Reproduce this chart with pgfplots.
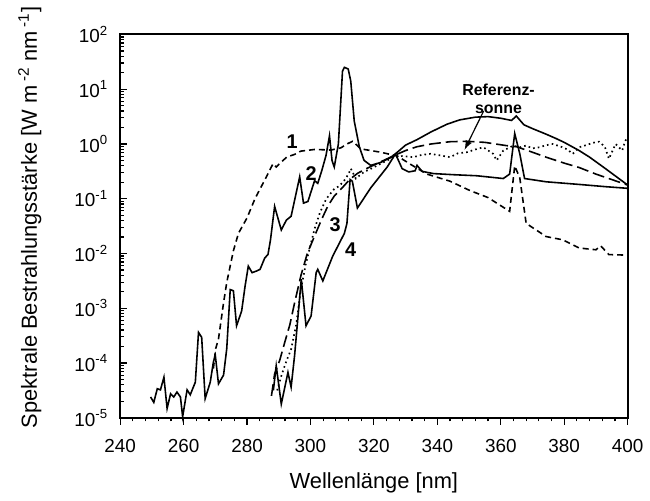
\documentclass[border=0pt]{standalone}
\usepackage{pgfplots}
\pgfplotsset{compat=1.18}
\usepackage{fontspec}
\setmainfont{Liberation Sans}

% spectra, wavelength [nm] vs. spectral irradiance [W m^-2 nm^-1]
\pgfplotstableread{
x y
269.4 7.94e-5
270.1 1.82e-4
271.0 2.75e-4
272.6 1.26e-3
273.6 2.95e-3
275.7 1.12e-2
277.3 2.34e-2
280.0 4.47e-2
282.5 0.100
286.1 0.251
288.2 0.437
289.2 0.380
290.8 0.468
292.5 0.575
295.0 0.646
297.0 0.741
301.3 0.794
306.5 0.776
309.6 0.851
311.5 1.00
313.3 1.12
315.9 0.813
322.1 0.708
327.4 0.603
331.5 0.427
336.7 0.282
344.0 0.209
350.3 0.141
356.0 0.105
362.8 0.0589
364.4 0.398
366.0 0.240
368.0 0.0355
374.3 0.0204
379.5 0.0178
384.7 0.0126
390.0 0.0117
391.5 0.0138
394.1 0.00955
400.0 0.00933
}\curveA

\pgfplotstableread{
x y
249.6 2.40e-5
250.6 1.91e-5
251.7 3.39e-5
252.7 3.24e-5
253.8 5.50e-5
254.8 1.48e-5
255.9 2.75e-5
256.9 2.40e-5
257.9 2.95e-5
259.0 2.40e-5
259.7 1.05e-5
261.1 3.24e-5
262.1 2.63e-5
263.7 4.47e-5
264.7 3.63e-4
265.7 2.95e-4
266.8 2.24e-5
268.4 4.47e-5
269.4 1.05e-4
270.0 1.38e-4
271.0 4.17e-5
272.6 6.03e-5
273.6 1.82e-4
274.7 2.19e-3
275.7 2.09e-3
276.7 4.79e-4
278.3 8.91e-4
279.4 2.57e-3
280.4 5.89e-3
281.6 4.47e-3
283.0 4.79e-3
284.1 5.13e-3
285.6 8.32e-3
286.6 9.55e-3
287.4 1.78e-2
288.7 7.24e-2
290.8 2.69e-2
292.4 4.07e-2
293.9 4.79e-2
296.6 0.251
297.8 0.0832
299.2 0.0891
301.3 0.214
302.3 0.191
303.6 0.331
304.9 0.617
306.0 1.41
306.8 0.501
307.5 0.380
308.8 1.00
310.1 21.4
310.7 25.1
311.9 23.4
312.7 14.1
313.8 2.63
315.4 0.891
316.9 0.501
319.0 0.407
322.0 0.457
325.2 0.562
326.8 0.661
328.9 0.355
331.0 0.309
333.0 0.324
333.6 0.407
335.2 0.316
338.8 0.288
345.0 0.275
352.4 0.263
360.8 0.234
362.8 0.282
364.4 1.55
366.0 0.661
367.5 0.234
374.3 0.204
385.0 0.182
393.1 0.166
400.0 0.155
}\curveB

\pgfplotstableread{
x y
289.5 3.16e-5
291.0 6.31e-5
292.5 1.12e-4
293.9 1.78e-4
295.5 5.01e-4
297.0 2.24e-3
298.5 6.31e-3
300.0 1.41e-2
301.3 2.82e-2
303.0 5.62e-2
305.0 0.100
307.5 0.151
309.0 0.170
310.5 0.209
312.0 0.282
312.7 0.355
314.3 0.234
316.9 0.309
319.5 0.363
322.1 0.437
326.3 0.575
329.0 0.603
332.5 0.575
335.0 0.631
337.8 0.661
341.0 0.617
344.0 0.575
346.5 0.676
349.3 0.708
352.0 0.794
354.5 0.871
357.6 0.661
358.7 0.501
360.8 0.759
363.9 0.933
366.0 0.871
368.0 0.933
370.0 0.832
372.2 0.871
374.5 0.955
376.4 1.00
379.0 0.891
381.0 0.794
382.7 0.661
384.7 0.871
387.0 0.955
389.0 1.05
391.0 1.10
392.8 0.891
394.1 0.537
396.2 1.00
398.3 0.759
399.2 1.12
400.0 1.35
}\curveC

\pgfplotstableread{
x y
288.3 3.16e-5
289.2 8.91e-5
290.8 1.78e-5
292.9 6.76e-5
293.9 3.63e-5
295.0 1.38e-4
297.1 3.39e-3
298.6 4.79e-4
300.2 7.24e-4
301.8 4.47e-3
302.3 5.13e-3
303.9 3.16e-3
307.0 8.91e-3
310.7 2.34e-2
311.5 3.55e-2
312.5 0.224
313.2 0.209
314.8 0.0676
319.0 0.158
324.2 0.380
326.8 0.661
330.0 0.955
333.6 1.20
338.0 1.66
343.0 2.29
347.0 2.75
352.0 3.09
356.0 3.16
360.0 2.95
363.4 2.69
364.9 3.24
367.3 2.24
370.0 1.91
374.3 1.51
377.4 1.26
380.0 1.07
384.7 0.759
388.0 0.575
393.0 0.355
400.0 0.178
}\curveD

\pgfplotstableread{
x y
287.7 2.51e-5
288.7 6.31e-5
290.3 1.12e-4
292.0 2.51e-4
293.5 5.01e-4
295.0 1.26e-3
297.0 3.98e-3
299.0 1.00e-2
301.3 2.09e-2
303.5 4.17e-2
305.5 7.41e-2
307.5 0.112
310.0 0.158
312.5 0.229
315.0 0.295
318.0 0.363
322.0 0.468
326.8 0.631
330.0 0.759
333.6 0.891
338.0 1.00
344.0 1.10
349.3 1.12
355.0 1.07
361.8 0.933
365.0 0.891
369.0 0.741
374.3 0.575
380.0 0.447
384.7 0.372
390.0 0.282
395.0 0.224
400.0 0.178
}\refsun

\begin{document}
\begin{tikzpicture}
\begin{axis}[
    scale only axis,
    width=255.5pt, height=193pt,
    xmin=240, xmax=400,
    ymode=log, ymin=1e-5, ymax=1e2,
    xtick={240,260,...,400}, minor x tick num=4,
    ytick={1e-5,1e-4,1e-3,1e-2,1e-1,1,10,100},
    yticklabels={10\textsuperscript{-5},10\textsuperscript{-4},10\textsuperscript{-3},10\textsuperscript{-2},
                 10\textsuperscript{-1},10\textsuperscript{0},10\textsuperscript{1},10\textsuperscript{2}},
    tick pos=left,
    xtick align=outside, ytick align=inside,
    major tick length=3.5pt, minor tick length=1.8pt,
    axis line style={line width=1pt},
    every tick/.style={black, line width=0.6pt},
    /pgf/number format/assume math mode=true,
    /pgf/number format/1000 sep={},
    ticklabel style={font=\fontsize{9.5}{11}\selectfont},
    xticklabel style={yshift=-4pt},
    yticklabel style={xshift=-2.5pt},
    xlabel={Wellenlänge [nm]},
    ylabel={Spektrale Bestrahlungsstärke [W m\,\textsuperscript{-2} nm\,\textsuperscript{-1}]},
    label style={font=\fontsize{11}{13}\selectfont},
    xlabel style={at={(rel axis cs:0.5,-0.171)}, anchor=center},
    ylabel style={at={(rel axis cs:-0.178,0.523)}, anchor=center},
    clip=false,
]

\addplot[black, line width=0.8pt, dash pattern=on 3pt off 2pt] table {\curveA};
\addplot[black, line width=0.8pt] table {\curveB};
\addplot[black, line width=0.85pt, dash pattern=on 0.8pt off 1.6pt] table {\curveC};
\addplot[black, line width=0.8pt] table {\curveD};
\addplot[black, line width=0.8pt, dash pattern=on 6pt off 2.5pt] table {\refsun};

\node[font=\bfseries\fontsize{10}{12}\selectfont] at (axis cs:294.2,1.1) {1};
\node[font=\bfseries\fontsize{10}{12}\selectfont] at (axis cs:300.2,0.288) {2};
\node[font=\bfseries\fontsize{10}{12}\selectfont] at (axis cs:307.8,0.0333) {3};
\node[font=\bfseries\fontsize{10}{12}\selectfont] at (axis cs:312.7,0.0117) {4};
\node[font=\bfseries\fontsize{8}{9}\selectfont, align=center] at (axis cs:359.3,6.8) {Referenz-\\sonne};
\draw[-latex, line width=0.6pt] (axis cs:354.6,4.0) -- (axis cs:348.6,0.787);

% page frame with the reference's proportions
\path (rel axis cs:-0.2368,1.0777) rectangle (rel axis cs:1.0352,-0.215);
\end{axis}
\end{tikzpicture}
\end{document}
